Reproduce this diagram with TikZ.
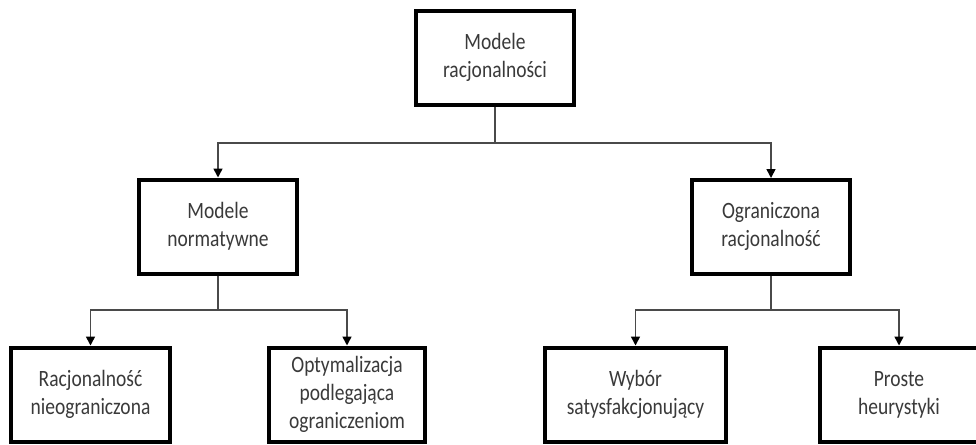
\documentclass[tikz,border=0pt]{standalone}
\usepackage{fontspec}
\setmainfont{Carlito}
\usepackage{graphicx}
\usetikzlibrary{arrows.meta}
\definecolor{txt}{HTML}{3A3A3A}
\definecolor{ln}{HTML}{4A4A4A}
\newcommand\lbl[1]{\scalebox{1}[1.2]{\begin{tabular}{@{}c@{}}#1\end{tabular}}}
\tikzset{
  box/.style={draw=black, line width=4pt, fill=white, minimum width=158pt, minimum height=94pt,
    inner sep=0pt, align=center, text=txt, font=\fontsize{19.5}{23.4}\selectfont},
  conn/.style={draw=ln, line width=1.6pt},
  arr/.style={conn, -{Triangle[width=9pt,length=9pt,color=black]}}
}
\begin{document}
\begin{tikzpicture}[x=1pt,y=-1pt]
\useasboundingbox (0,0) rectangle (976,444);
\node[box] (top) at (495,58) {\lbl{Modele\\racjonalności}};
\node[box] (ml) at (218,226.5) {\lbl{Modele\\normatywne}};
\node[box] (mr) at (771,227) {\lbl{Ograniczona\\racjonalność}};
\node[box, minimum width=159pt] (b1) at (90.5,394.5) {\lbl{Racjonalność\\nieograniczona}};
\node[box, minimum width=156pt] (b2) at (347,394.5) {\lbl{Optymalizacja\\podlegająca\\ograniczeniom}};
\node[box, minimum width=181pt] (b3) at (635.5,394.5) {\lbl{Wybór\\satysfakcjonujący}};
\node[box, minimum width=158pt] (b4) at (899,394.5) {\lbl{Proste\\heurystyki}};
\coordinate (j0) at (495,143);
\coordinate (j1) at (218,310);
\coordinate (j2) at (771,310);
\draw[conn] (top.south) -- (j0);
\draw[arr] (j0) -| (ml.north);
\draw[arr] (j0) -| (mr.north);
\draw[conn] (ml.south) -- (j1);
\draw[arr] (j1) -| (b1.north);
\draw[arr] (j1) -| (b2.north);
\draw[conn] (mr.south) -- (j2);
\draw[arr] (j2) -| (b3.north);
\draw[arr] (j2) -| (b4.north);
\end{tikzpicture}
\end{document}
